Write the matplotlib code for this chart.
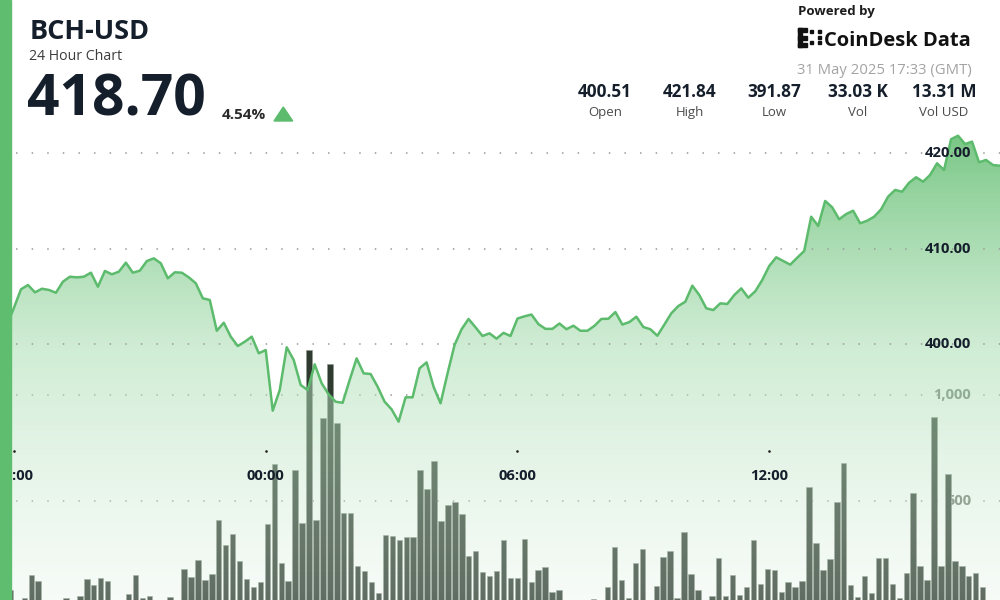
import numpy as np
import matplotlib.pyplot as plt
from matplotlib.patches import Polygon, Rectangle
from matplotlib import transforms

plt.rcParams['font.family'] = ['Open Sans', 'DejaVu Sans']

# BCH-USD, 10 minute closes from 17:40 (30 May) to 17:30 (31 May) GMT
price = [400.51, 402.00, 403.83, 405.76, 406.21, 405.44, 405.82, 405.69, 405.40, 406.56,
         407.08, 407.01, 407.08, 407.50, 406.03, 407.68, 407.33, 407.61, 408.55, 407.50,
         407.71, 408.72, 409.00, 408.48, 406.91, 407.54, 407.50, 407.01, 406.39, 404.82,
         404.64, 401.42, 402.26, 400.80, 399.82, 400.27, 400.80, 399.06,
         399.40, 393.05, 395.21, 399.69, 398.36, 395.74, 395.21, 397.91, 395.92, 394.76,
         393.99, 393.88, 396.26, 398.53, 396.96, 396.89, 395.56, 393.99, 393.19, 391.90,
         394.45, 394.45, 397.49, 398.11, 395.56, 393.82, 396.96, 399.93, 401.57, 402.65,
         401.78, 400.87, 401.15, 400.59, 401.20, 400.87, 402.70, 402.93, 403.12, 402.11,
         401.62, 401.62, 402.18, 401.58, 401.95, 401.42, 401.42, 401.93, 402.66, 402.68,
         403.38, 402.07, 402.33, 402.89, 401.81, 401.58, 400.90, 402.06, 403.25, 404.01,
         404.46, 406.14, 405.16, 403.77, 403.59, 404.29, 404.22, 405.16, 405.86, 404.88,
         405.55, 406.73, 408.20, 409.11, 408.72, 408.34, 409.07, 409.77, 413.36, 412.39,
         415.01, 414.35, 413.09, 413.64, 413.99, 412.67, 412.94, 413.36, 414.14, 415.46,
         416.16, 415.98, 416.92, 417.49, 417.03, 417.73, 418.95, 418.25, 421.47, 421.84,
         420.97, 421.22, 419.06, 419.30, 418.77, 418.70]

volume = [50, 85, 15, 47, 155, 127, 15, 39, 15, 47,
          15, 57, 138, 108, 143, 127, 15, 15, 66, 154,
          49, 57, 15, 15, 53, 15, 185, 146, 225, 134,
          162, 414, 296, 348, 222, 135, 99, 124, 395, 678,
          211, 127, 646, 398, 1209, 414, 893, 1145, 866, 445,
          445, 198, 175, 124, 69, 344, 340, 319, 332, 332,
          646, 558, 689, 410, 484, 498, 440, 244, 266, 170,
          151, 175, 321, 142, 142, 324, 124, 179, 192, 75,
          83, 15, 15, 15, 15, 41, 15, 99, 285, 130,
          49, 214, 277, 15, 104, 242, 269, 49, 358, 159,
          85, 15, 57, 237, 57, 154, 60, 101, 319, 115,
          186, 181, 77, 124, 99, 127, 566, 305, 179, 230,
          497, 682, 107, 53, 151, 72, 237, 237, 112, 46,
          164, 542, 197, 130, 898, 200, 627, 220, 200, 151,
          164, 98, 15, 15]

price_ticks = [400, 410, 420]
volume_ticks = [500, 1000]
time_ticks = [-6, 0, 6, 12]
time_labels = ['18:00', '00:00', '06:00', '12:00']
stat_values = ['400.51', '421.84', '391.87', '33.03 K', '13.31 M']
stat_names = ['Open', 'High', 'Low', 'Vol', 'Vol USD']

DARK = '#151e2b'
GREEN = '#5cbb6c'

# time in hours relative to 00:00
t = np.arange(-38, -38 + len(price)) / 6.0
t0, t1 = t[0], t[-1]

fig = plt.figure(figsize=(10, 6), dpi=100)
ax = fig.add_axes([0, 0, 1, 1])
ax2 = ax.twinx()
for a in (ax, ax2):
    a.set_xlim(t0, t1)
    a.set_xticks([])
    a.set_yticks([])
    for s in a.spines.values():
        s.set_visible(False)
ax.set_ylim(38.4, 2850)
ax2.set_ylim(373.23, 436.05)


def px(x, y):
    # figure pixel (from top-left) -> figure fraction
    return x / 1000.0, 1 - y / 600.0


def dotted(axis, y):
    axis.axhline(y, color='#9b9b9b', lw=1.3, dash_capstyle='round',
                 linestyle=(8.0, (0.01, 8.63)), zorder=1.5)


# volume bars, one band per 10 minutes across the full width
edges = np.linspace(t0, t1, len(volume) + 1)
centers = (edges[:-1] + edges[1:]) / 2
band = edges[1] - edges[0]
ax.bar(centers, volume, width=band * 0.78, color='#2f3a31',
       edgecolor='#8e998c', linewidth=0.4, zorder=2)

xfig_yvol = transforms.blended_transform_factory(fig.transFigure, ax.transData)
for v in volume_ticks:
    dotted(ax, v)
    ax.text(0.971, v, f'{v:,}', transform=xfig_yvol, ha='right', va='center',
            fontsize=10.5, fontweight='bold', color='#6f776f', zorder=1.8)

# price area with vertical gradient
stops_y = np.array([0, 130, 350, 600])
stops_c = np.array([[95, 188, 110, 0.88],
                    [95, 188, 110, 0.85],
                    [170, 222, 178, 0.55],
                    [225, 242, 228, 0.28]])
rows = np.arange(600) + 0.5
grad = np.zeros((600, 1, 4))
for k in range(4):
    grad[:, 0, k] = np.interp(rows, stops_y, stops_c[:, k])
grad[:, :, :3] /= 255.0
im = ax2.imshow(grad, extent=[t0, t1, 373.23, 436.05], origin='upper',
                aspect='auto', zorder=1, interpolation='bilinear')
verts = [(t0, 373.23)] + list(zip(t, price)) + [(t1, 373.23)]
clip = Polygon(verts, closed=True, facecolor='none', edgecolor='none',
               transform=ax2.transData)
ax2.add_patch(clip)
im.set_clip_path(clip)
ax2.plot(t, price, color=GREEN, lw=1.8, solid_joinstyle='round', zorder=3)

xfig_yprice = transforms.blended_transform_factory(fig.transFigure, ax2.transData)
for p in price_ticks:
    dotted(ax2, p)
    ax2.text(0.971, p, f'{p:.2f}', transform=xfig_yprice, ha='right', va='center',
             fontsize=10.7, fontweight='bold', color=DARK, zorder=4)

xdata_yfig = transforms.blended_transform_factory(ax2.transData, fig.transFigure)
ax2.scatter(time_ticks, [1 - 451 / 600.0] * len(time_ticks), s=0.8, color='#222222',
            transform=xdata_yfig, zorder=4)
for tt, lab in zip(time_ticks, time_labels):
    ax2.text(tt, 1 - 476 / 600.0, lab, transform=xdata_yfig, ha='center', va='center',
             fontsize=10.7, fontweight='bold', color=DARK, zorder=4)

# left accent bar
fig.add_artist(Rectangle((0, 0), 0.0105, 1, transform=fig.transFigure,
                         color='#5fbd6f', zorder=5))

# header
fig.text(*px(30, 39), 'BCH-USD', fontsize=19.5, fontweight='bold', color=DARK, va='baseline')
fig.text(*px(29, 60), '24 Hour Chart', fontsize=10.2, color='#3c3c3c', va='baseline')
fig.text(*px(27, 115), '418.70', fontsize=41, fontweight='bold', color=DARK, va='baseline')
fig.text(*px(222, 119), '4.54%', fontsize=11, fontweight='bold', color='#2a2a2a', va='baseline')
tri = [px(274, 121), px(292.7, 121), px(283.3, 107)]
fig.add_artist(Polygon(tri, closed=True, transform=fig.transFigure, color=GREEN))

fig.text(*px(798, 15), 'Powered by', fontsize=9.5, fontweight='bold', color='#1c1c1c',
         va='baseline')
fig.text(*px(824, 46), 'CoinDesk Data', fontsize=14.5, fontweight='bold', color='#111111',
         va='baseline')
# small logo mark next to the brand name
for (lx, ly, lw_, lh) in [(798, 28, 3.5, 19), (798, 28, 9, 3.5), (798, 36, 9, 3.5),
                          (798, 43.5, 9, 3.5), (810, 30, 3, 3), (810, 41, 3, 3),
                          (818, 30, 3, 3), (818, 35.5, 3, 3), (818, 41, 3, 3)]:
    x0, y0 = px(lx, ly + lh)
    fig.add_artist(Rectangle((x0, y0), lw_ / 1000.0, lh / 600.0, transform=fig.transFigure,
                             color='#111111'))
fig.text(*px(972, 74), '31 May 2025 17:33 (GMT)', fontsize=10.7, color='#a3a3a3',
         ha='right', va='baseline')

stat_x = [605, 690, 774, 858, 944]
for sx, val, name in zip(stat_x, stat_values, stat_names):
    fig.text(*px(sx, 97), val, fontsize=12.3, fontweight='bold', color=DARK,
             ha='center', va='baseline')
    fig.text(*px(sx, 116), name, fontsize=9.5, color='#4a4a4a', ha='center',
             va='baseline')

fig.savefig('out.png', dpi=100)
